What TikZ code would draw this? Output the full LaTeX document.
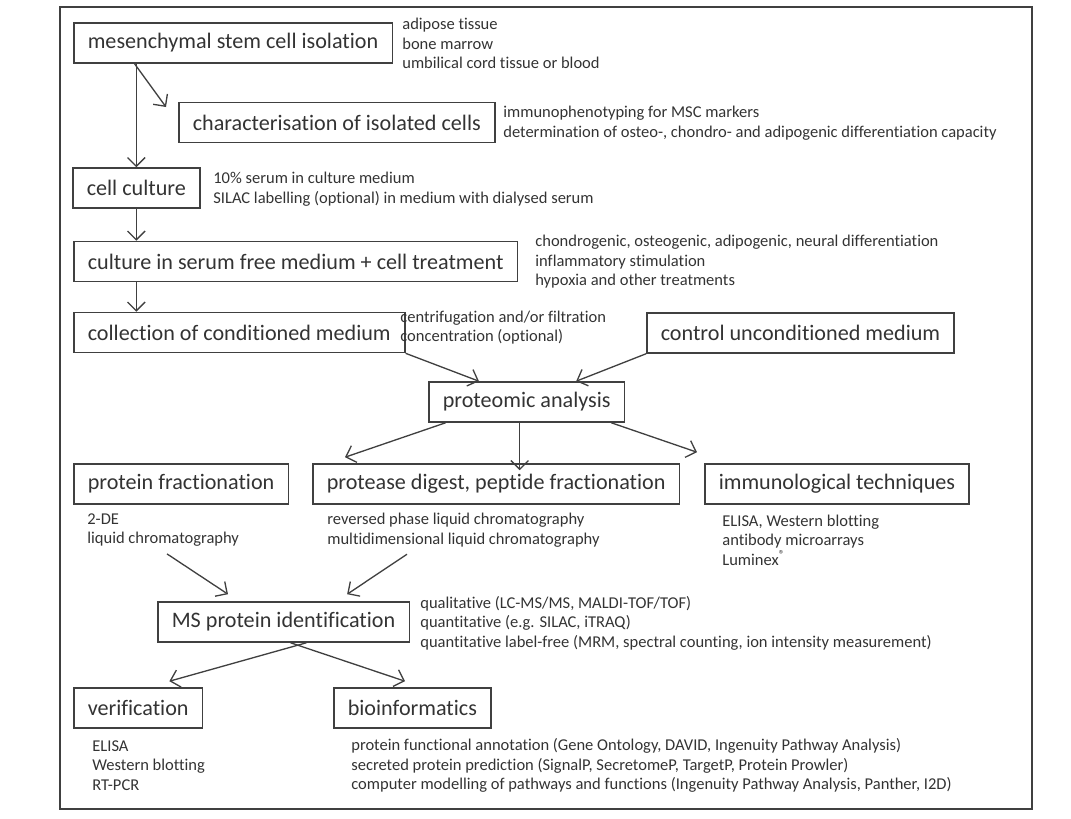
\documentclass[tikz,border=0pt]{standalone}
\usepackage{fontspec}
\setmainfont{Carlito}[Ligatures=NoCommon]
\usetikzlibrary{arrows.meta}

\begin{document}
\begin{tikzpicture}
          [x=0.02cm, y=-0.02cm,
           box/.style  = {draw=linecolor, line width=0.9pt, text=textcolor, anchor=west,
                          font=\fontsize{12.6}{14}\selectfont, minimum height=0.8cm, inner xsep=0.28cm},
           note/.style = {text=textcolor, anchor=west, align=left, inner sep=0pt,
                          font=\fontsize{9.4}{11.1}\selectfont},
           flow/.style = {draw=linecolor, line width=0.75pt, -{Straight Barb[length=5pt,width=10pt]}}]

% Define colors
\colorlet{linecolor}{black!75}
\colorlet{textcolor}{black!80}

\useasboundingbox (0,0) rectangle (1071,818);
\draw [linecolor, line width=0.9pt] (60,7) rectangle (1032,809);

% main steps
\node [box] (iso)        at (73,43)    {mesenchymal stem cell isolation};
\node [box] (char)       at (178,122.5) {characterisation of isolated cells};
\node [box] (cc)         at (72,188)   {cell culture};
\node [box] (culture)    at (73,261.5) {culture in serum free medium + cell treatment};
\node [box] (collection) at (73,332.5) {collection of conditioned medium};
\node [box] (control)    at (646,333)  {control unconditioned medium};
\node [box] (prot)       at (428,402)  {proteomic analysis};
\node [box] (pfrac)      at (73,484)   {protein fractionation};
\node [box] (pdig)       at (312,484)  {protease digest, peptide fractionation};
\node [box] (immu)       at (704,484)  {immunological techniques};
\node [box] (ms)         at (157,622)  {MS protein identification};
\node [box] (verif)      at (73,708)   {verification};
\node [box] (bioinf)     at (333,708)  {bioinformatics};

% side notes
\node [note] (isonote)     at (402,43.5) {adipose tissue\\bone marrow\\umbilical cord tissue or blood};
\node [note] (charnote)    at (503,123)  {immunophenotyping for MSC markers\\determination of osteo-, chondro- and adipogenic differentiation capacity};
\node [note] (ccnote)      at (213,189)  {10\% serum in culture medium\\SILAC labelling (optional) in medium with dialysed serum};
\node [note] (culturenote) at (535,262)  {chondrogenic, osteogenic, adipogenic, neural differentiation\\inflammatory stimulation\\hypoxia and other treatments};
\node [note] (collnote)    at (400,327.5) {centrifugation and/or filtration\\concentration (optional)};
\node [note] (pfracnote)   at (87,530)   {2-DE\\liquid chromatography};
\node [note] (pdignote)    at (327,530)  {reversed phase liquid chromatography\\multidimensional liquid chromatography};
\node [note] (immunote)    at (722,540)  {ELISA, Western blotting\\antibody microarrays\\Luminex\textsuperscript{®}};
\node [note] (msnote)      at (420,623)  {qualitative (LC-MS/MS, MALDI-TOF/TOF)\\quantitative (e.g. SILAC, iTRAQ)\\quantitative label-free (MRM, spectral counting, ion intensity measurement)};
\node [note] (verifnote)   at (92,765.5) {ELISA\\Western blotting\\RT-PCR};
\node [note] (bioinfnote)  at (351,765.5) {protein functional annotation (Gene Ontology, DAVID, Ingenuity Pathway Analysis)\\secreted protein prediction (SignalP, SecretomeP, TargetP, Protein Prowler)\\computer modelling of pathways and functions (Ingenuity Pathway Analysis, Panther, I2D)};

% free ends of connectors
\coordinate (charin) at ([shift={(-12,-15.5)}]char.west);
\coordinate (leftout) at ([shift={(33,-6)}]pdig.north west);
\coordinate (rightout) at ([shift={(-7,-11)}]immu.north west);

% making connections
\draw [flow] (iso.south -| cc.north) -- (cc.north);
\draw [flow] ([xshift=-1]iso.south -| cc.north) -- (charin);
\draw [flow] (cc.south) -- (cc.south |- culture.north);
\draw [flow] (culture.south -| cc.south) -- (collection.north -| cc.south);
\draw [flow] (collection.south east) -- ([xshift=29]prot.north west);
\draw [flow] (control.south west) -- ([xshift=-28]prot.north east);
\draw [flow] ([xshift=10]prot.south west) -- (leftout);
\draw [flow] ([xshift=-4]prot.south) -- ([xshift=-4,yshift=-4]prot.south |- pdig.north);
\draw [flow] ([xshift=-8]prot.south east) -- (rightout);
\draw [flow] ([shift={(80,7)}]pfracnote.south west) -- ([shift={(71,-7)}]ms.north west);
\draw [flow] ([shift={(80,7)}]pdignote.south west) -- ([shift={(-63,-7)}]ms.north east);
\draw [flow] ([xshift=85]ms.south west) -- ([shift={(-34,-6)}]verif.north east);
\draw [flow] ([xshift=-68]ms.south east) -- ([shift={(72,-6)}]bioinf.north west);

\end{tikzpicture}
\end{document}
